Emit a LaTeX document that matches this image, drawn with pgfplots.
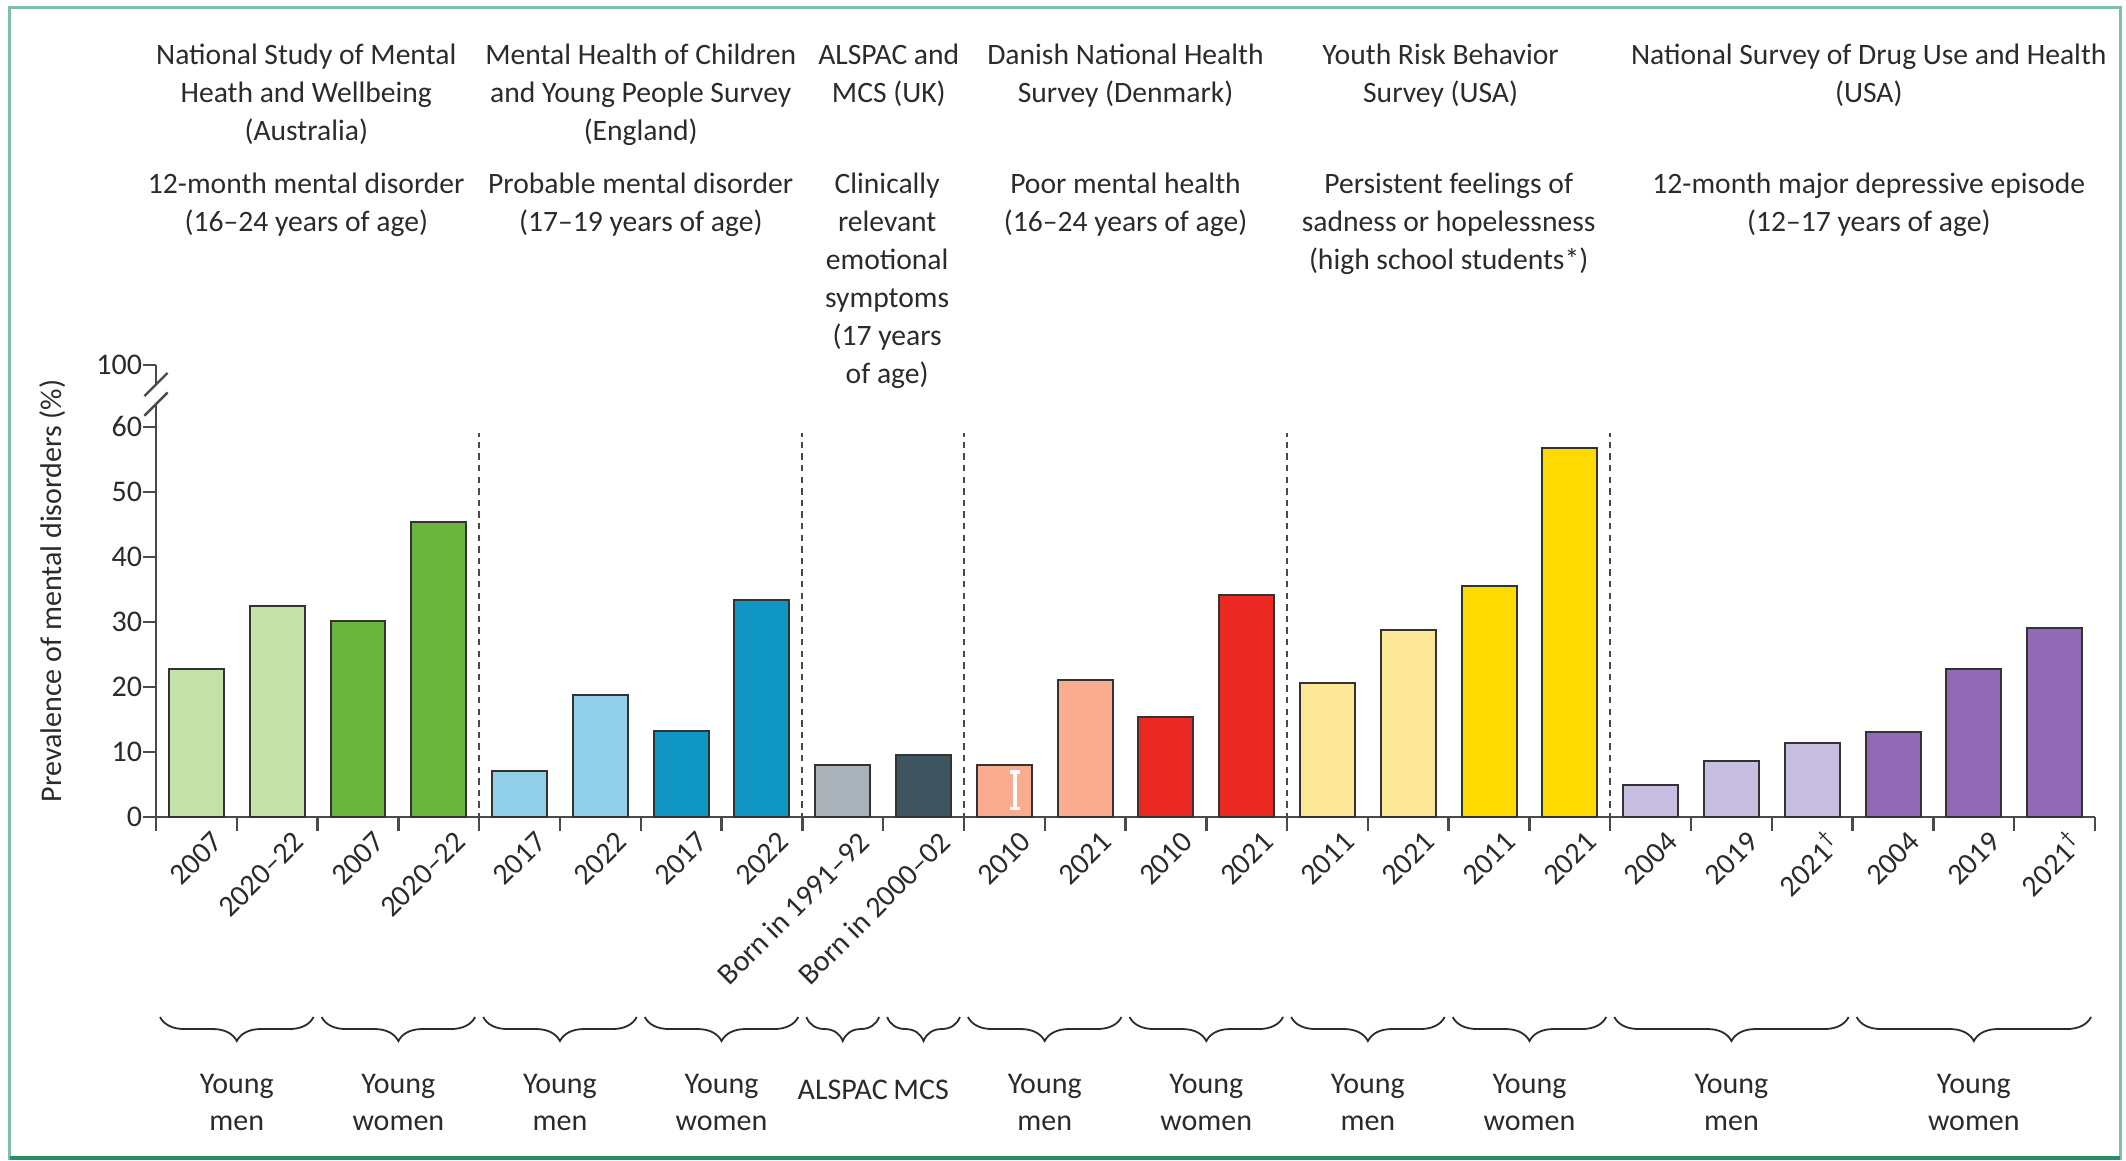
\documentclass[border=0pt]{standalone}
\usepackage{fontspec}
\setmainfont{Carlito}
\usepackage{pgfplots}
\pgfplotsset{compat=1.18}
\usetikzlibrary{decorations.pathreplacing}

\definecolor{txt}{HTML}{2B2B2B}
\definecolor{axgray}{HTML}{4A4A4A}
\definecolor{barline}{HTML}{333333}
\definecolor{framec}{HTML}{7DBFA8}
\definecolor{framedark}{HTML}{2E8B62}
\definecolor{lgreen}{RGB}{197,224,168}
\definecolor{dgreen}{RGB}{104,180,60}
\definecolor{lblue}{RGB}{145,206,232}
\definecolor{dblue}{RGB}{16,150,196}
\definecolor{alspac}{RGB}{170,178,185}
\definecolor{mcs}{RGB}{62,85,96}
\definecolor{salmon}{RGB}{250,172,145}
\definecolor{dred}{RGB}{236,40,36}
\definecolor{lyellow}{RGB}{252,232,150}
\definecolor{dyellow}{RGB}{255,218,0}
\definecolor{lpurple}{RGB}{200,190,225}
\definecolor{dpurple}{RGB}{145,105,180}

\pgfplotsset{mbar/.style={ybar, bar width=0.68, bar shift=0pt, draw=barline, line width=0.5pt, fill=#1}}

\begin{document}
\begin{tikzpicture}[
  hdr/.style={anchor=north, align=center, inner sep=0pt, text=txt, font=\fontsize{7.4}{9.5}\selectfont},
  grp/.style={anchor=north, align=center, inner sep=0pt, text=txt, font=\fontsize{7.5}{9.3}\selectfont},
  brc/.style={decorate, decoration={brace, mirror, amplitude=6pt}, draw=txt, line width=0.45pt},
  sep/.style={draw=axgray, line width=0.5pt, dash pattern=on 1.6pt off 1.3pt},
  axl/.style={draw=axgray, line width=0.6pt},
]
\begin{axis}[
  scale only axis,
  width=484.75pt, height=113pt,
  xmin=0, xmax=24, ymin=0, ymax=69.5,
  clip=false,
  axis lines*=left,
  axis line style={draw=axgray, line width=0.6pt},
  y axis line style={draw=none},
  tick align=outside,
  major tick length=3.3pt,
  minor tick length=3.5pt,
  tick style={draw=axgray, line width=0.6pt},
  major x tick style={draw=none},
  xtick={0.5,1.5,...,23.5},
  minor xtick={0,1,...,24},
  xticklabels={2007,2020–22,2007,2020–22,2017,2022,2017,2022,Born in 1991–92,Born in 2000–02,2010,2021,2010,2021,2011,2021,2011,2021,2004,2019,2021\textsuperscript{†},2004,2019,2021\textsuperscript{†}},
  xticklabel style={rotate=45, anchor=east, inner sep=0pt, xshift=2.8pt, yshift=-5pt, text=txt, font=\fontsize{7.5}{9}\selectfont},
  ytick={0,10,20,30,40,50,60,69.5},
  yticklabels={0,10,20,30,40,50,60,100},
  yticklabel style={inner sep=0pt, text=txt, font=\fontsize{7.5}{9}\selectfont},
]
% Australia
\addplot[mbar=lgreen] coordinates {(0.5,22.8) (1.5,32.4)};
\addplot[mbar=dgreen] coordinates {(2.5,30.1) (3.5,45.4)};
% England
\addplot[mbar=lblue] coordinates {(4.5,7.0) (5.5,18.7)};
\addplot[mbar=dblue] coordinates {(6.5,13.3) (7.5,33.3)};
% ALSPAC and MCS
\addplot[mbar=alspac] coordinates {(8.5,8.0)};
\addplot[mbar=mcs] coordinates {(9.5,9.5)};
% Denmark
\addplot[mbar=salmon] coordinates {(10.5,8.0) (11.5,21.0)};
\addplot[mbar=dred] coordinates {(12.5,15.4) (13.5,34.1)};
% YRBS
\addplot[mbar=lyellow] coordinates {(14.5,20.6) (15.5,28.8)};
\addplot[mbar=dyellow] coordinates {(16.5,35.6) (17.5,56.7)};
% NSDUH
\addplot[mbar=lpurple] coordinates {(18.5,4.9) (19.5,8.6) (20.5,11.4)};
\addplot[mbar=dpurple] coordinates {(21.5,13.0) (22.5,22.8) (23.5,29.0)};
% interval inside the 2010 Danish bar
\addplot[draw=none, mark=none, forget plot, error bars/.cd, y dir=both, y explicit,
  error bar style={draw=white, line width=0.9pt},
  error mark options={draw=white, line width=0.9pt, mark size=1.3pt, rotate=90}]
  coordinates {(10.63,4.1) +- (0,2.8)};

% broken y axis
\draw[axl] (axis cs:0,0) -- (axis cs:0,63.5);
\draw[axl] (axis cs:0,66.5) -- (axis cs:0,69.5);
\draw[axl] ([shift={(-2.9pt,-2.9pt)}]axis cs:0,63.5) -- ([shift={(2.9pt,2.9pt)}]axis cs:0,63.5);
\draw[axl] ([shift={(-2.9pt,-2.9pt)}]axis cs:0,66.5) -- ([shift={(2.9pt,2.9pt)}]axis cs:0,66.5);

\node[rotate=90, anchor=center, inner sep=0pt, text=txt, font=\fontsize{7.5}{9}\selectfont]
  at ([xshift=-25.75pt]rel axis cs:0,0.5) {Prevalence of mental disorders (\%)};

% survey separators
\pgfplotsinvokeforeach{4,8,10,14,18}{
  \draw[sep] ([yshift=-3.5pt]axis cs:#1,0) -- (axis cs:#1,59);
}

% survey headers
\node[hdr] at ([yshift=193.4pt]axis cs:1.86,0) {National Study of Mental\\Heath and Wellbeing\\(Australia)};
\node[hdr] at ([yshift=193.4pt]axis cs:6.0,0) {Mental Health of Children\\and Young People Survey\\(England)};
\node[hdr] at ([yshift=193.4pt]axis cs:9.07,0) {ALSPAC and\\MCS (UK)};
\node[hdr] at ([yshift=193.4pt]axis cs:12.0,0) {Danish National Health\\Survey (Denmark)};
\node[hdr] at ([yshift=193.4pt]axis cs:15.9,0) {Youth Risk Behavior\\Survey (USA)};
\node[hdr] at ([yshift=193.4pt]axis cs:21.2,0) {National Survey of Drug Use and Health\\(USA)};

\node[hdr] at ([yshift=161.2pt]axis cs:1.86,0) {12-month mental disorder\\(16–24 years of age)};
\node[hdr] at ([yshift=161.2pt]axis cs:6.0,0) {Probable mental disorder\\(17–19 years of age)};
\node[hdr] at ([yshift=161.2pt]axis cs:9.05,0) {Clinically\\relevant\\emotional\\symptoms\\(17 years\\of age)};
\node[hdr] at ([yshift=161.2pt]axis cs:12.0,0) {Poor mental health\\(16–24 years of age)};
\node[hdr] at ([yshift=161.2pt]axis cs:16.0,0) {Persistent feelings of\\sadness or hopelessness\\(high school students*)};
\node[hdr] at ([yshift=161.2pt]axis cs:21.2,0) {12-month major depressive episode\\(12–17 years of age)};

% group braces
\draw[brc] ([yshift=-50pt]axis cs:0.05,0) -- ([yshift=-50pt]axis cs:1.95,0);
\draw[brc] ([yshift=-50pt]axis cs:2.05,0) -- ([yshift=-50pt]axis cs:3.95,0);
\draw[brc] ([yshift=-50pt]axis cs:4.05,0) -- ([yshift=-50pt]axis cs:5.95,0);
\draw[brc] ([yshift=-50pt]axis cs:6.05,0) -- ([yshift=-50pt]axis cs:7.95,0);
\draw[brc] ([yshift=-50pt]axis cs:8.05,0) -- ([yshift=-50pt]axis cs:8.95,0);
\draw[brc] ([yshift=-50pt]axis cs:9.05,0) -- ([yshift=-50pt]axis cs:9.95,0);
\draw[brc] ([yshift=-50pt]axis cs:10.05,0) -- ([yshift=-50pt]axis cs:11.95,0);
\draw[brc] ([yshift=-50pt]axis cs:12.05,0) -- ([yshift=-50pt]axis cs:13.95,0);
\draw[brc] ([yshift=-50pt]axis cs:14.05,0) -- ([yshift=-50pt]axis cs:15.95,0);
\draw[brc] ([yshift=-50pt]axis cs:16.05,0) -- ([yshift=-50pt]axis cs:17.95,0);
\draw[brc] ([yshift=-50pt]axis cs:18.05,0) -- ([yshift=-50pt]axis cs:20.95,0);
\draw[brc] ([yshift=-50pt]axis cs:21.05,0) -- ([yshift=-50pt]axis cs:23.95,0);

% group labels
\node[grp] at ([yshift=-64pt]axis cs:1,0) {Young\\men};
\node[grp] at ([yshift=-64pt]axis cs:3,0) {Young\\women};
\node[grp] at ([yshift=-64pt]axis cs:5,0) {Young\\men};
\node[grp] at ([yshift=-64pt]axis cs:7,0) {Young\\women};
\node[grp] at ([yshift=-65.6pt]axis cs:8.5,0) {ALSPAC};
\node[grp] at ([yshift=-65.6pt]axis cs:9.47,0) {MCS};
\node[grp] at ([yshift=-64pt]axis cs:11,0) {Young\\men};
\node[grp] at ([yshift=-64pt]axis cs:13,0) {Young\\women};
\node[grp] at ([yshift=-64pt]axis cs:15,0) {Young\\men};
\node[grp] at ([yshift=-64pt]axis cs:17,0) {Young\\women};
\node[grp] at ([yshift=-64pt]axis cs:19.5,0) {Young\\men};
\node[grp] at ([yshift=-64pt]axis cs:22.5,0) {Young\\women};

\coordinate (O) at (axis cs:0,0);
\end{axis}

% outer frame
\draw[framec, line width=0.75pt] ([shift={(-36.5pt,-85.25pt)}]O) rectangle ([shift={(491pt,202.5pt)}]O);
\draw[framedark, line width=0.9pt] ([shift={(-36.5pt,-85.25pt)}]O) -- ([shift={(491pt,-85.25pt)}]O);
\pgfresetboundingbox
\useasboundingbox ([shift={(-39pt,-85.75pt)}]O) rectangle ([shift={(492.5pt,204.25pt)}]O);
\end{tikzpicture}
\end{document}
